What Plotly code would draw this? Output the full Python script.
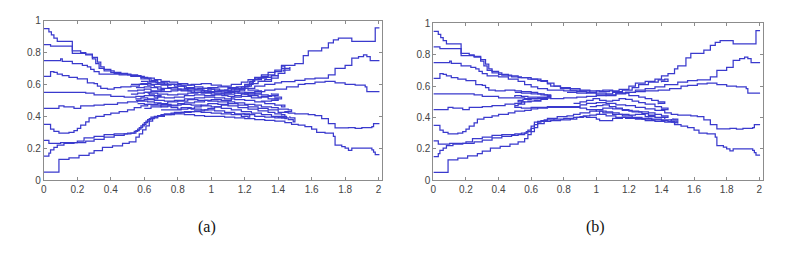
import plotly.graph_objects as go

# ---------------- shared outer parts (x, y) step breakpoints ----------------
L1 = [(0, .95), (.03, .93), (.045, .91), (.06, .89), (.08, .87), (.17, .81), (.22, .80), (.25, .79), (.29, .77), (.32, .74), (.34, .71), (.36, .695), (.40, .675), (.46, .665)]
L2 = [(0, .85), (.04, .84), (.17, .795), (.25, .785), (.29, .76), (.31, .73), (.33, .70), (.36, .685), (.42, .67)]
L3 = [(0, .75), (.1, .76), (.11, .745), (.17, .73), (.23, .72), (.26, .71), (.28, .695), (.3, .68), (.33, .665)]
L4 = [(0, .65), (.04, .68), (.06, .675), (.08, .665), (.11, .655), (.15, .645), (.2, .635), (.26, .61), (.3, .605), (.32, .59), (.34, .575), (.38, .57)]
L5 = [(0, .55), (.25, .545), (.3, .535), (.4, .525)]
L6 = [(0, .45), (.09, .465), (.12, .46), (.18, .45), (.22, .465), (.3, .47), (.36, .475), (.44, .485)]
L7 = [(0, .35), (.04, .32), (.06, .305), (.09, .295), (.15, .30), (.18, .31), (.2, .325), (.22, .345), (.25, .365), (.27, .39), (.31, .40), (.36, .41), (.4, .42)]
L8 = [(0, .25), (.03, .23), (.1, .235), (.2, .245), (.24, .265), (.3, .275), (.36, .285), (.42, .29)]
L9 = [(0, .15), (.03, .17), (.04, .19), (.06, .205), (.08, .22), (.12, .23), (.18, .235), (.25, .245), (.3, .255), (.36, .27), (.42, .28)]
L10 = [(0, .05), (.09, .13), (.15, .14), (.21, .155), (.27, .17), (.3, .185), (.35, .205), (.41, .215)]

R1 = [(1.50, .73), (1.55, .78), (1.58, .81), (1.66, .83), (1.70, .86), (1.73, .88), (1.76, .89), (1.84, .87), (1.98, .955), (2.005, .955)]
R2 = [(1.5, .625), (1.56, .635), (1.62, .64), (1.70, .66), (1.74, .70), (1.80, .72), (1.84, .765), (1.88, .775), (1.91, .785), (1.93, .775), (1.95, .75), (2.005, .75)]
R3 = [(1.52, .60), (1.56, .605), (1.62, .615), (1.68, .62), (1.74, .61), (1.8, .60), (1.86, .595), (1.92, .585), (1.93, .555), (2.005, .555)]
R4 = [(1.5, .415), (1.58, .41), (1.62, .405), (1.66, .385), (1.7, .355), (1.74, .327), (1.82, .33), (1.86, .325), (1.9, .33), (1.96, .335), (1.97, .355), (2.005, .355)]
R5 = [(1.52, .345), (1.56, .335), (1.6, .32), (1.63, .30), (1.68, .295), (1.73, .275), (1.74, .22), (1.78, .21), (1.80, .20), (1.82, .187), (1.84, .20), (1.96, .19), (1.97, .175), (1.98, .16), (2.005, .16)]

# ---------------- panel (a) middle parts ----------------
MA1 = [(.52, .655), (.58, .645), (.62, .64), (.66, .63), (.70, .62), (.75, .615), (.80, .605), (.86, .595), (.90, .585), (.95, .575), (1.0, .57), (1.05, .565), (1.10, .575), (1.15, .585), (1.2, .60), (1.23, .62), (1.26, .64), (1.3, .65), (1.34, .66), (1.38, .68), (1.42, .72)]
MA2 = [(.5, .66), (.56, .65), (.6, .64), (.64, .625), (.68, .61), (.74, .60), (.8, .59), (.85, .58), (.9, .57), (.95, .56), (1.0, .555), (1.06, .56), (1.12, .57), (1.18, .585), (1.22, .60), (1.25, .63), (1.3, .645), (1.36, .655), (1.4, .67), (1.44, .70), (1.47, .71), (1.47, .69), (1.43, .68)]
MA3 = [(.45, .66), (.52, .65), (.58, .635), (.63, .62), (.67, .61), (.72, .60), (.78, .59), (.84, .575), (.9, .565), (.96, .55), (1.02, .545), (1.08, .55), (1.14, .56), (1.2, .575), (1.26, .59), (1.32, .60), (1.38, .61), (1.42, .617)]
MA4 = [(.42, .58), (.46, .585), (.52, .59), (.57, .6), (.62, .595), (.66, .585), (.7, .575), (.76, .57), (.82, .56), (.88, .55), (.94, .545), (1.0, .54), (1.06, .545), (1.12, .555), (1.17, .57), (1.2, .59), (1.23, .61), (1.25, .63), (1.28, .64), (1.33, .645), (1.36, .62), (1.3, .615)]
MA5 = [(.48, .52), (.55, .525), (.6, .53), (.66, .52), (.72, .515), (.78, .52), (.84, .53), (.9, .535), (.96, .53), (1.02, .535), (1.08, .54), (1.14, .545), (1.2, .55), (1.26, .555), (1.32, .565), (1.38, .57), (1.45, .585)]
MA6 = [(.5, .49), (.56, .495), (.62, .49), (.66, .485), (.7, .475), (.76, .47), (.82, .475), (.88, .47), (.94, .465), (1.0, .46), (1.06, .45), (1.12, .44), (1.18, .43), (1.24, .42), (1.3, .41), (1.36, .40), (1.42, .39), (1.46, .38), (1.49, .365), (1.5, .39), (1.47, .40)]
MA7 = [(.45, .43), (.5, .44), (.54, .455), (.58, .465), (.62, .475), (.68, .48), (.74, .49), (.8, .495), (.86, .505), (.92, .50), (.98, .495), (1.04, .49), (1.1, .48), (1.16, .47), (1.22, .46), (1.28, .45), (1.34, .44), (1.4, .425), (1.46, .42)]
MA8 = [(.5, .295), (.54, .305), (.56, .32), (.58, .34), (.6, .36), (.62, .38), (.64, .395), (.68, .405), (.72, .415), (.78, .425), (.84, .43), (.9, .435), (.96, .44), (1.02, .435), (1.08, .425), (1.14, .415), (1.2, .41), (1.26, .40), (1.32, .395), (1.38, .39), (1.44, .385), (1.45, .40), (1.42, .405)]
MA9 = [(.48, .29), (.52, .295), (.55, .31), (.57, .33), (.59, .35), (.61, .37), (.63, .385), (.66, .40), (.7, .41), (.76, .42), (.82, .425), (.88, .43), (.94, .425), (1.0, .42), (1.06, .415), (1.12, .41), (1.18, .40), (1.22, .395), (1.23, .415), (1.19, .42)]
MA10 = [(.47, .23), (.51, .24), (.55, .27), (.57, .29), (.59, .315), (.61, .34), (.63, .37), (.65, .39), (.68, .40), (.72, .41), (.78, .415), (.84, .41), (.9, .405), (.96, .40), (1.02, .40), (1.08, .395), (1.14, .39), (1.2, .385), (1.26, .38), (1.32, .375), (1.38, .37), (1.44, .36), (1.48, .35)]

XA1 = [(.5, .56), (.56, .565), (.6, .57), (.64, .56), (.7, .555), (.76, .56), (.8, .565), (.86, .57), (.92, .575), (.98, .58), (1.04, .585), (1.1, .58), (1.16, .575), (1.22, .565), (1.28, .56), (1.3, .545), (1.26, .54), (1.2, .535)]
XA2 = [(.55, .50), (.6, .505), (.66, .50), (.72, .495), (.78, .50), (.84, .51), (.9, .515), (.96, .52), (1.02, .515), (1.08, .51), (1.14, .505), (1.2, .50), (1.26, .49), (1.32, .48), (1.38, .47), (1.42, .46), (1.44, .47), (1.4, .475)]
XA3 = [(.6, .45), (.64, .46), (.7, .465), (.76, .455), (.8, .445), (.86, .45), (.9, .46), (.94, .47), (.98, .48), (1.04, .475), (1.1, .465), (1.16, .455), (1.22, .445), (1.28, .435), (1.34, .425), (1.38, .415), (1.42, .41), (1.44, .395), (1.4, .39)]
XA4 = [(.52, .6), (.58, .605), (.64, .60), (.7, .595), (.76, .60), (.82, .595), (.88, .60), (.94, .605), (1.0, .595), (1.06, .59), (1.12, .60), (1.18, .615), (1.22, .63), (1.26, .645), (1.3, .66), (1.34, .675), (1.38, .69), (1.42, .715), (1.44, .70), (1.42, .69)]
XA5 = [(.62, .545), (.68, .54), (.74, .535), (.8, .54), (.86, .545), (.92, .55), (.98, .555), (1.04, .56), (1.1, .555), (1.16, .545), (1.22, .53), (1.28, .52), (1.34, .51), (1.4, .50), (1.36, .495), (1.3, .50)]
XA6 = [(.7, .44), (.76, .44), (.82, .455), (.88, .445), (.94, .44), (.98, .45), (1.02, .46), (1.06, .47), (1.1, .49), (1.14, .485), (1.2, .475), (1.26, .47), (1.3, .46), (1.36, .455), (1.4, .445), (1.46, .44), (1.48, .43), (1.44, .425)]
XA7 = [(.56, .48), (.6, .475), (.64, .47), (.7, .46), (.74, .465), (.8, .48), (.84, .485), (.9, .49), (.96, .50), (1.0, .505), (1.06, .50), (1.12, .52), (1.18, .525), (1.24, .515), (1.3, .525), (1.36, .53), (1.4, .54), (1.36, .545)]
XA8 = [(.58, .62), (.62, .615), (.68, .60), (.74, .58), (.8, .57), (.86, .56), (.9, .55), (.94, .56), (.98, .57), (1.02, .56), (1.08, .565), (1.14, .57), (1.2, .59), (1.24, .605), (1.28, .62), (1.32, .63), (1.36, .64), (1.4, .655), (1.36, .645)]
XA9 = [(.52, .54), (.56, .545), (.6, .55), (.63, .535), (.66, .53), (.7, .525), (.68, .51), (.62, .515), (.58, .51), (.55, .505)]
XA10 = [(1.06, .53), (1.1, .525), (1.14, .53), (1.18, .54), (1.22, .545), (1.26, .54), (1.3, .535), (1.34, .53), (1.38, .52), (1.42, .51), (1.38, .505)]
XA11 = [(.55, .58), (.6, .585), (.64, .58), (.68, .57), (.72, .565), (.7, .555), (.64, .55), (.6, .545)]

# ---------------- panel (b) middle parts ----------------
MB1 = [(.52, .655), (.58, .645), (.64, .635), (.7, .62), (.74, .60), (.78, .59), (.84, .585), (.9, .575), (.96, .57), (1.02, .565), (1.08, .57), (1.14, .58), (1.2, .60), (1.24, .62), (1.3, .63), (1.36, .645), (1.4, .665), (1.44, .68), (1.48, .71)]
MB2 = [(.48, .66), (.54, .655), (.6, .645), (.66, .63), (.7, .615), (.72, .60), (.78, .585), (.84, .575), (.9, .57), (.96, .56), (1.0, .555), (1.06, .55), (1.1, .56), (1.16, .575), (1.22, .59), (1.26, .61), (1.32, .625), (1.38, .64), (1.42, .645), (1.44, .63), (1.4, .625)]
MB3 = [(.4, .66), (.46, .645), (.52, .63), (.56, .61), (.6, .595), (.64, .585), (.7, .575), (.8, .57), (.88, .565), (.94, .555), (1.0, .545), (1.06, .54), (1.12, .55), (1.18, .56), (1.24, .575), (1.3, .585), (1.36, .595), (1.42, .61)]
MB4 = [(.44, .575), (.5, .57), (.54, .565), (.6, .56), (.64, .55), (.68, .545), (.72, .535), (.7, .53), (.62, .53), (.58, .535), (.54, .54), (.5, .53)]
MB5 = [(.5, .525), (.56, .52), (.64, .525), (.72, .52), (.8, .525), (.88, .53), (.94, .535), (1.0, .54), (1.06, .545), (1.12, .555), (1.18, .56), (1.24, .565), (1.3, .57), (1.38, .575), (1.45, .585)]
MB6 = [(.5, .49), (.54, .50), (.58, .505), (.62, .51), (.66, .52), (.7, .515), (.66, .505), (.6, .50), (.56, .485), (.52, .475), (.5, .465), (.54, .46), (.6, .465), (.7, .47), (.8, .47), (.86, .465), (.9, .46), (.94, .45), (1.0, .44), (1.04, .43), (1.1, .42), (1.16, .41), (1.22, .40), (1.28, .395), (1.34, .39), (1.4, .385), (1.46, .37), (1.5, .36), (1.5, .39), (1.47, .395)]
MB7 = [(.46, .43), (.5, .44), (.56, .445), (.6, .455), (.64, .46), (.7, .465), (.82, .465), (.86, .47), (.9, .48), (.94, .49), (1.0, .495), (1.06, .49), (1.12, .48), (1.18, .475), (1.24, .465), (1.3, .455), (1.36, .445), (1.42, .43), (1.46, .42)]
MB8 = [(.5, .295), (.54, .30), (.57, .31), (.6, .33), (.62, .355), (.64, .375), (.68, .385), (.74, .39), (.8, .395), (.86, .40), (.9, .405), (.94, .40), (1.0, .39), (1.02, .38), (1.08, .38), (1.1, .395), (1.16, .40), (1.22, .395), (1.28, .39), (1.34, .385), (1.4, .38), (1.44, .375), (1.48, .365), (1.49, .385), (1.46, .39)]
MB9 = [(.48, .285), (.52, .29), (.56, .30), (.58, .32), (.6, .345), (.62, .37), (.66, .38), (.7, .395), (.76, .405), (.82, .41), (.86, .42), (.9, .43), (.96, .44), (1.0, .45), (1.04, .46), (1.1, .455), (1.16, .445), (1.22, .435), (1.28, .425), (1.32, .415), (1.36, .41), (1.32, .40)]
MB10 = [(.47, .23), (.52, .245), (.56, .265), (.58, .29), (.6, .31), (.62, .335), (.64, .36), (.68, .375), (.72, .38), (.78, .385), (.84, .39), (.88, .40), (.92, .41), (.96, .415), (1.0, .42), (1.06, .41), (1.12, .40), (1.18, .395), (1.24, .39), (1.3, .38), (1.36, .375), (1.42, .37), (1.48, .355)]

XB1 = [(.5, .56), (.54, .555), (.6, .55), (.66, .545), (.7, .54), (.72, .525), (.68, .52), (.6, .515), (.55, .51), (.52, .50), (.56, .495)]
XB2 = [(.82, .56), (.88, .555), (.94, .56), (1.0, .57), (1.04, .575), (1.1, .565), (1.16, .555), (1.2, .54), (1.26, .53), (1.3, .52), (1.34, .51), (1.38, .5), (1.42, .49), (1.38, .485)]
XB3 = [(.86, .49), (.9, .50), (.94, .51), (.98, .52), (1.02, .51), (1.06, .505), (1.1, .51), (1.14, .52), (1.18, .515), (1.22, .505), (1.26, .495), (1.3, .485), (1.36, .47), (1.4, .46), (1.44, .45), (1.4, .445)]
XB4 = [(.96, .47), (1.0, .475), (1.04, .48), (1.08, .47), (1.12, .46), (1.16, .45), (1.2, .44), (1.26, .435), (1.32, .43), (1.36, .42), (1.4, .41), (1.44, .40), (1.4, .395)]
XB5 = [(1.0, .42), (1.02, .44), (1.06, .435), (1.1, .43), (1.14, .42), (1.2, .415), (1.24, .42), (1.3, .405), (1.36, .40), (1.42, .39)]

X_TICKS = [0, 0.2, 0.4, 0.6, 0.8, 1, 1.2, 1.4, 1.6, 1.8, 2]
X_TICKTEXT = ["0", "0.2", "0.4", "0.6", "0.8", "1", "1.2", "1.4", "1.6", "1.8", "2"]
Y_TICKS = [0, 0.2, 0.4, 0.6, 0.8, 1]
Y_TICKTEXT = ["0", "0.2", "0.4", "0.6", "0.8", "1"]
PANEL_LABELS = ["(a)", "(b)"]

LEFTS = [L1, L2, L3, L4, L5, L6, L7, L8, L9, L10]
RIGHTS = {0: R1, 2: R2, 4: R3, 6: R4, 9: R5}
MIDS_A = [MA1, MA2, MA3, MA4, MA5, MA6, MA7, MA8, MA9, MA10]
MIDS_B = [MB1, MB2, MB3, MB4, MB5, MB6, MB7, MB8, MB9, MB10]
EXTRA_A = [XA1, XA2, XA3, XA4, XA5, XA6, XA7, XA8, XA9, XA10, XA11]
EXTRA_B = [XB1, XB2, XB3, XB4, XB5]

COLOR = "rgb(58,58,205)"

fig = go.Figure()


def add_line(pts, xa, ya):
    fig.add_trace(go.Scatter(
        x=[p[0] for p in pts], y=[p[1] for p in pts],
        mode="lines", line=dict(color=COLOR, width=1.25, shape="hv"),
        xaxis=xa, yaxis=ya, showlegend=False, hoverinfo="skip"))


for mids, extras, xa, ya in [(MIDS_A, EXTRA_A, "x", "y"), (MIDS_B, EXTRA_B, "x2", "y2")]:
    for i, left in enumerate(LEFTS):
        add_line(left + mids[i] + RIGHTS.get(i, []), xa, ya)
    for ex in extras:
        add_line(ex, xa, ya)

# page has an 8px body margin: figure is sized so that it fills the 811x253 window exactly
OFF = 8
W, H = 811 - 2 * OFF, 253 - 2 * OFF


def px_x(p):
    return (p - OFF) / W


def px_y(p):
    return (H - (p - OFF)) / H


axis_common = dict(
    showgrid=False, zeroline=False, showline=True, linecolor="#8c8c8c", linewidth=1,
    mirror="ticks", ticks="inside", ticklen=3, tickcolor="#8c8c8c",
    tickfont=dict(family="Liberation Sans, Arial", size=10, color="#444444"),
)

label_font = dict(family="Liberation Serif, Times New Roman", size=16, color="#111111")

fig.update_layout(
    width=W, height=H, margin=dict(l=0, r=0, t=0, b=0),
    paper_bgcolor="white", plot_bgcolor="white",
    xaxis=dict(domain=[px_x(41), px_x(380)], range=[0, 2.018], tickvals=X_TICKS, ticktext=X_TICKTEXT, anchor="y", **axis_common),
    yaxis=dict(domain=[px_y(183), px_y(15)], range=[0, 1], tickvals=Y_TICKS, ticktext=Y_TICKTEXT, anchor="x", **axis_common),
    xaxis2=dict(domain=[px_x(432), px_x(763)], range=[0, 2.024], tickvals=X_TICKS, ticktext=X_TICKTEXT, anchor="y2", **axis_common),
    yaxis2=dict(domain=[px_y(183), px_y(18)], range=[0, 1], tickvals=Y_TICKS, ticktext=Y_TICKTEXT, anchor="x2", **axis_common),
    annotations=[
        dict(text=PANEL_LABELS[0], x=px_x(205), y=px_y(232), xref="paper", yref="paper", showarrow=False,
             xanchor="center", yanchor="middle", font=label_font),
        dict(text=PANEL_LABELS[1], x=px_x(595), y=px_y(232), xref="paper", yref="paper", showarrow=False,
             xanchor="center", yanchor="middle", font=label_font),
    ],
)

fig.write_html("out.html")
